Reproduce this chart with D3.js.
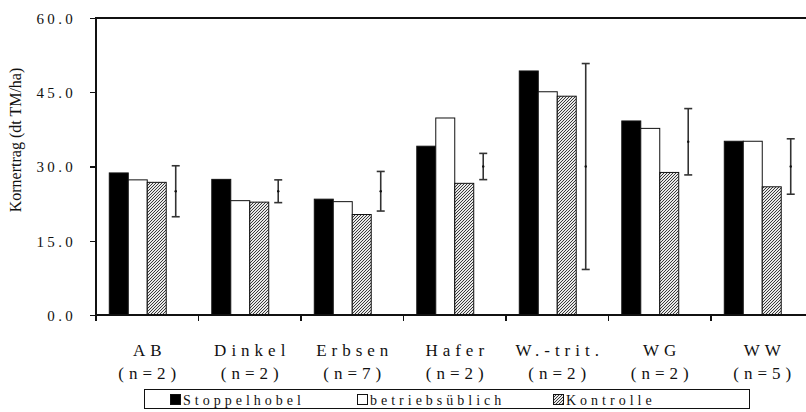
<!doctype html>
<html lang="de">
<head>
<meta charset="utf-8">
<title>Kornertrag</title>
<style>
html, body {
	margin: 0;
	padding: 0;
	background: #fff;
}
svg {
	display: block;
}
svg text {
	font-family: 'Liberation Serif', 'DejaVu Serif', serif;
	fill: #111;
}
.axis path, .axis line {
	stroke: #111;
	stroke-width: 1.2px;
	shape-rendering: crispEdges;
}
.axis text {
	font-size: 15px;
	letter-spacing: 3.3px;
}
.cat text {
	font-size: 17px;
}
.legend text {
	font-size: 14px;
	letter-spacing: 4px;
}
</style>
</head>
<body>
<div id="chart"></div>
<script src="https://cdnjs.cloudflare.com/ajax/libs/d3/7.8.5/d3.min.js"></script>
<script>
/* DATA */

var categories = ['AB', 'Dinkel', 'Erbsen', 'Hafer', 'W.-trit.', 'WG', 'WW'];
var counts = ['(n=2)', '(n=2)', '(n=7)', '(n=2)', '(n=2)', '(n=2)', '(n=5)'];
var series = ['Stoppelhobel', 'betriebsüblich', 'Kontrolle'];

var stoppelhobel = [28.7, 27.4, 23.4, 34.1, 49.3, 39.2, 35.1];
var betrieb = [27.3, 23.1, 22.9, 39.8, 45.1, 37.7, 35.1];
var kontrolle = [26.8, 22.8, 20.3, 26.6, 44.2, 28.8, 25.9];

// Streubalken: Mitte und halbe Länge
var errMid = [25.0, 25.0, 25.0, 30.0, 30.0, 35.0, 30.0];
var errHalf = [5.15, 2.3, 4.0, 2.65, 20.8, 6.7, 5.6];

var yTicks = [0, 15, 30, 45, 60];

(function (d3) {

	'use strict';

	/* CONST */

	var W = 806;
	var H = 412;
	var M = { left: 96, top: 18, bottom: 315, right: 813.5 };
	var FONT = "'Liberation Serif', 'DejaVu Serif', serif";

	var values = [stoppelhobel, betrieb, kontrolle];
	var fills = ['#000', '#fff', 'url(#hatch)'];

	/* SCALES */

	var x = d3.scaleBand()
		.domain(categories)
		.range([M.left, M.right]);

	var slot = d3.scaleBand()
		.domain(series.concat(['lsd']))
		.range([0, x.bandwidth()])
		.paddingOuter(0.7);

	var y = d3.scaleLinear()
		.domain([0, 60])
		.range([M.bottom, M.top]);

	/* RENDER */

	var svg = d3.select('#chart')
		.append('svg')
			.attr('width', W)
			.attr('height', H)
			.attr('font-family', FONT);

	var pat = svg.append('defs')
		.append('pattern')
			.attr('id', 'hatch')
			.attr('patternUnits', 'userSpaceOnUse')
			.attr('width', 3)
			.attr('height', 3);
	pat.append('rect')
		.attr('width', 3)
		.attr('height', 3)
		.attr('fill', '#e8e8e8');
	pat.append('path')
		.attr('d', 'M0,3 L3,0 M-1,1 L1,-1 M2,4 L4,2')
		.attr('stroke', '#3a3a3a')
		.attr('stroke-width', 1);

	// bars
	series.forEach(function (s, si) {
		svg.append('g')
			.selectAll('rect')
			.data(values[si])
			.enter()
			.append('rect')
				.attr('x', function (d, i) { return x(categories[i]) + slot(s); })
				.attr('y', function (d) { return y(d); })
				.attr('width', slot.bandwidth())
				.attr('height', function (d) { return y(0) - y(d); })
				.attr('fill', fills[si])
				.attr('stroke', '#111')
				.attr('stroke-width', 1);
	});

	// error bars
	var eg = svg.append('g')
		.attr('stroke', '#333')
		.attr('stroke-width', 1.6);
	var ex = function (i) { return x(categories[i]) + slot('lsd') + slot.bandwidth() / 2; };
	errMid.forEach(function (m, i) {
		var lo = y(m - errHalf[i]);
		var hi = y(m + errHalf[i]);
		eg.append('line')
			.attr('x1', ex(i)).attr('x2', ex(i))
			.attr('y1', lo).attr('y2', hi);
		eg.append('line')
			.attr('x1', ex(i) - 4).attr('x2', ex(i) + 4)
			.attr('y1', lo).attr('y2', lo);
		eg.append('line')
			.attr('x1', ex(i) - 4).attr('x2', ex(i) + 4)
			.attr('y1', hi).attr('y2', hi);
		eg.append('circle')
			.attr('cx', ex(i))
			.attr('cy', y(m))
			.attr('r', 1.2)
			.attr('fill', '#111')
			.attr('stroke', 'none');
	});

	// frame
	svg.append('rect')
		.attr('x', M.left)
		.attr('y', M.top)
		.attr('width', M.right - M.left)
		.attr('height', M.bottom - M.top)
		.attr('fill', 'none')
		.attr('stroke', '#111')
		.attr('stroke-width', 1.2)
		.attr('shape-rendering', 'crispEdges');

	// y axis
	var ya = svg.append('g')
		.attr('class', 'axis')
		.attr('transform', 'translate(' + M.left + ',0)')
		.call(d3.axisLeft(y)
			.tickValues(yTicks)
			.tickFormat(d3.format('.1f'))
			.tickSize(6)
			.tickPadding(14));
	ya.attr('font-family', FONT).attr('font-size', null);
	ya.select('.domain').remove();
	ya.selectAll('text').attr('dy', '0.35em');

	// x axis: ticks on category borders
	var xa = svg.append('g')
		.attr('class', 'axis')
		.attr('transform', 'translate(0,' + M.bottom + ')');
	xa.selectAll('line.border')
		.data(categories.concat(['end']))
		.enter()
		.append('line')
			.attr('class', 'border')
			.attr('x1', function (d, i) { return M.left + i * x.step(); })
			.attr('x2', function (d, i) { return M.left + i * x.step(); })
			.attr('y1', 0)
			.attr('y2', 6);

	var cg = svg.append('g').attr('class', 'cat');
	cg.selectAll('text.c1')
		.data(categories)
		.enter()
		.append('text')
			.attr('class', 'c1')
			.attr('x', function (d) { return x(d) + x.bandwidth() / 2 + 2.5; })
			.attr('y', 356)
			.attr('text-anchor', 'middle')
			.style('letter-spacing', '5px')
			.text(function (d) { return d; });
	cg.selectAll('text.c2')
		.data(counts)
		.enter()
		.append('text')
			.attr('class', 'c2')
			.attr('x', function (d, i) { return x(categories[i]) + x.bandwidth() / 2 + 2.5; })
			.attr('y', 379)
			.attr('text-anchor', 'middle')
			.style('letter-spacing', '5px')
			.text(function (d) { return d; });

	// y title
	svg.append('text')
		.attr('transform', 'translate(21,140) rotate(-90)')
		.attr('text-anchor', 'middle')
		.style('font-size', '16px')
		.text('Kornertrag (dt TM/ha)');

	/* LEGEND */

	var lg = svg.append('g').attr('class', 'legend');
	lg.append('rect')
		.attr('x', 144.5)
		.attr('y', 389.5)
		.attr('width', 605)
		.attr('height', 19)
		.attr('fill', '#fff')
		.attr('stroke', '#111')
		.attr('stroke-width', 1);
	var lx = [170, 357, 553];
	series.forEach(function (s, si) {
		lg.append('rect')
			.attr('x', lx[si] + 0.5)
			.attr('y', 394.5)
			.attr('width', 10)
			.attr('height', 10)
			.attr('fill', fills[si])
			.attr('stroke', '#111')
			.attr('stroke-width', 1);
		lg.append('text')
			.attr('x', lx[si] + 13)
			.attr('y', 404.5)
			.text(s);
	});

})(window.d3);
</script>
</body>
</html>
